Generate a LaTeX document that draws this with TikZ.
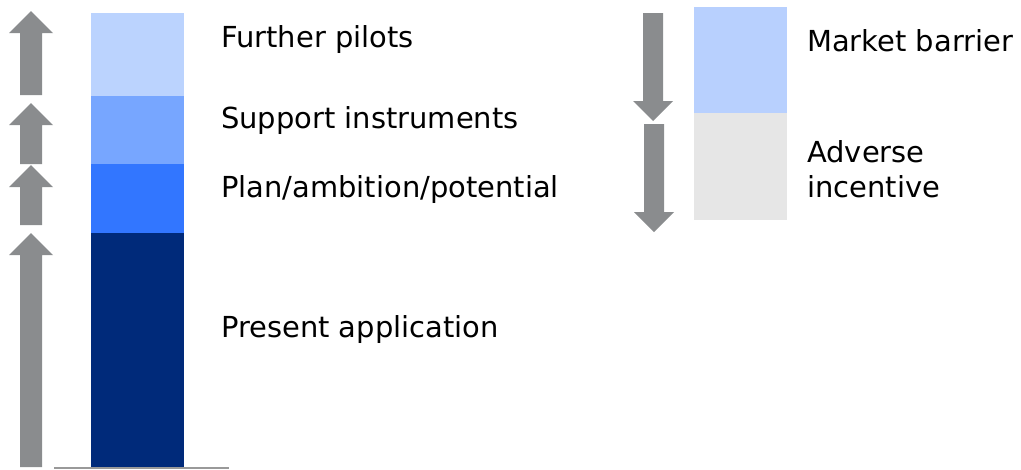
\documentclass[tikz,border=0pt]{standalone}
\usepackage{fontspec}
\setmainfont{DejaVu Sans}
\usetikzlibrary{calc}
\definecolor{pilotblue}{HTML}{BBD3FE}
\definecolor{supportblue}{HTML}{77A6FF}
\definecolor{planblue}{HTML}{3276FF}
\definecolor{presentblue}{HTML}{002A7A}
\definecolor{barrierblue}{HTML}{B8D0FE}
\definecolor{adversegray}{HTML}{E6E6E6}
\definecolor{arrowgray}{HTML}{8A8C8E}
\tikzset{label/.style={anchor=base west, inner sep=0pt, align=left, font=\fontsize{21.7}{24.75}\selectfont}}
% block arrows: tip, head base, tail (pixel units)
\newcommand{\uparr}[3]{\fill[arrowgray] (20,#3) -- (20,#2) -- (9,#2) -- (31,#1) -- (53,#2) -- (42,#2) -- (42,#3) -- cycle;}
\newcommand{\downarr}[4]{\fill[arrowgray] (#4-10,#3) -- (#4-10,#2) -- (#4-20,#2) -- (#4,#1) -- (#4+20,#2) -- (#4+10,#2) -- (#4+10,#3) -- cycle;}

\begin{document}
\begin{tikzpicture}[x=0.75pt, y=-0.75pt]
\useasboundingbox (0,0) rectangle (1021,469);
% stacked bar
\fill[pilotblue] (91,13) rectangle (184,96);
\fill[supportblue] (91,96) rectangle (184,164);
\fill[planblue] (91,164) rectangle (184,233);
\fill[presentblue] (91,233) rectangle (184,468);
\coordinate (base west) at (54,468);
\coordinate (base east) at (229,468);
\draw[gray!80, line width=1.2pt] (base west) -- (base east);
% up arrows
\uparr{11}{33}{95}
\uparr{103}{125}{164}
\uparr{165}{187}{225}
\uparr{233}{255}{467}
% bar labels
\node[label] (pilots) at (221,47) {Further pilots};
\node[label] (support) at (221,128) {Support instruments};
\node[label] (plan) at (221,197) {Plan/ambition/potential};
\node[label] (present) at (221,337) {Present application};
% legend
\fill[barrierblue] (694,7) rectangle (787,113);
\fill[adversegray] (694,113) rectangle (787,220);
\downarr{121}{101}{13}{653}
\downarr{232}{212}{124}{654}
\node[label] (barrier) at (807,51) {Market barrier};
\node[label] (adverse) at (807,197) {Adverse\\[1.5pt]incentive};
\end{tikzpicture}
\end{document}
